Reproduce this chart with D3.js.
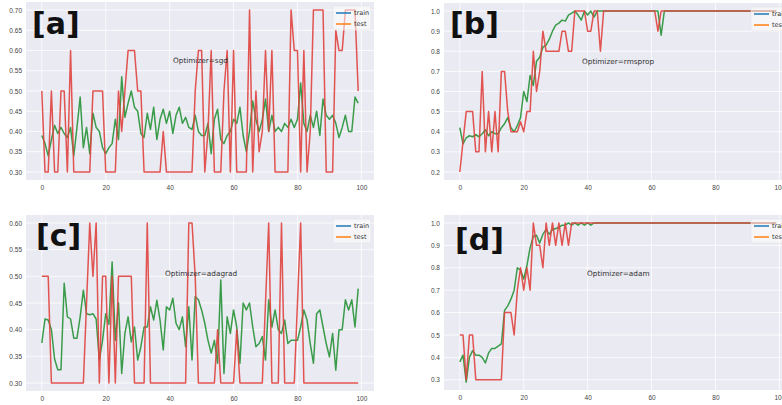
<!DOCTYPE html>
<html>
<head>
<meta charset="utf-8">
<script src="https://cdn.jsdelivr.net/npm/d3@7"></script>
<style>
  body { margin: 0; background: #fff; }
  svg { display: block; font-family: "DejaVu Sans", sans-serif; }
</style>
</head>
<body>
<div id="chart"></div>
<script>
const width = 782;
const height = 405;

// epochs 0..99
const epochs = d3.range(100);

// accuracy per epoch
const sgdTrain = [0.39,0.37,0.34,0.38,0.415,0.395,0.41,0.395,0.385,0.41,
  0.34,0.41,0.485,0.36,0.41,0.345,0.445,0.41,0.40,0.36,
  0.345,0.36,0.37,0.43,0.38,0.535,0.435,0.47,0.50,0.46,
  0.45,0.395,0.385,0.445,0.405,0.46,0.38,0.43,0.455,0.42,
  0.45,0.395,0.44,0.46,0.42,0.435,0.41,0.405,0.44,0.40,
  0.39,0.39,0.42,0.345,0.43,0.455,0.38,0.37,0.39,0.40,
  0.43,0.42,0.46,0.39,0.35,0.40,0.475,0.43,0.40,0.43,
  0.48,0.40,0.44,0.40,0.41,0.40,0.42,0.41,0.43,0.41,
  0.43,0.52,0.42,0.40,0.44,0.41,0.45,0.39,0.48,0.44,
  0.43,0.44,0.42,0.385,0.41,0.44,0.40,0.40,0.485,0.47];
const sgdTest = [0.5,0.3,0.3,0.5,0.3,0.3,0.5,0.5,0.3,0.6,
  0.3,0.3,0.3,0.3,0.3,0.3,0.5,0.5,0.5,0.5,
  0.3,0.3,0.3,0.3,0.5,0.4,0.5,0.6,0.6,0.6,
  0.5,0.5,0.3,0.3,0.3,0.3,0.3,0.3,0.4,0.3,
  0.3,0.3,0.3,0.3,0.3,0.3,0.3,0.3,0.5,0.6,
  0.6,0.3,0.4,0.6,0.3,0.3,0.3,0.5,0.6,0.3,
  0.6,0.3,0.3,0.3,0.3,0.7,0.3,0.5,0.35,0.4,
  0.6,0.4,0.6,0.3,0.3,0.3,0.3,0.3,0.7,0.6,
  0.6,0.3,0.6,0.3,0.4,0.7,0.7,0.7,0.7,0.3,
  0.3,0.3,0.65,0.6,0.6,0.7,0.7,0.7,0.7,0.5];

const rmspropTrain = [0.42,0.34,0.37,0.38,0.375,0.385,0.375,0.39,0.41,0.38,
  0.40,0.39,0.39,0.42,0.44,0.47,0.42,0.40,0.43,0.47,
  0.60,0.55,0.68,0.63,0.75,0.77,0.82,0.83,0.86,0.90,
  0.93,0.94,0.955,0.95,0.98,0.99,1.0,0.98,0.955,1.0,
  0.98,1.0,0.97,1.0,1.0,1.0,1.0,1.0,1.0,1.0,
  1.0,1.0,1.0,1.0,1.0,1.0,1.0,1.0,1.0,1.0,
  1.0,1.0,1.0,0.88,1.0,1.0,1.0,1.0,1.0,1.0,
  1.0,1.0,1.0,1.0,1.0,1.0,1.0,1.0,1.0,1.0,
  1.0,1.0,1.0,1.0,1.0,1.0,1.0,1.0,1.0,1.0,
  1.0,1.0,1.0,1.0,1.0,1.0,1.0,1.0,1.0,1.0];
const rmspropTest = [0.2,0.35,0.5,0.5,0.5,0.3,0.3,0.7,0.3,0.5,
  0.3,0.5,0.3,0.7,0.7,0.5,0.4,0.4,0.4,0.45,
  0.4,0.5,0.5,0.8,0.6,0.7,0.9,0.8,0.8,0.8,
  0.8,0.8,0.9,0.9,0.8,0.8,1.0,1.0,1.0,1.0,
  0.9,0.9,1.0,1.0,0.8,1.0,1.0,1.0,1.0,1.0,
  1.0,1.0,1.0,1.0,1.0,1.0,1.0,1.0,1.0,1.0,
  1.0,1.0,0.9,1.0,1.0,1.0,1.0,1.0,1.0,1.0,
  1.0,1.0,1.0,1.0,1.0,1.0,1.0,1.0,1.0,1.0,
  1.0,1.0,1.0,1.0,1.0,1.0,1.0,1.0,1.0,1.0,
  1.0,1.0,1.0,1.0,1.0,1.0,1.0,1.0,1.0,1.0];

const adagradTrain = [0.375,0.42,0.418,0.40,0.345,0.325,0.325,0.487,0.424,0.42,
  0.384,0.384,0.424,0.474,0.43,0.428,0.43,0.42,0.343,0.38,
  0.43,0.41,0.527,0.38,0.45,0.318,0.393,0.424,0.377,0.405,
  0.343,0.368,0.405,0.405,0.443,0.418,0.455,0.418,0.362,0.443,
  0.437,0.459,0.412,0.40,0.424,0.368,0.443,0.343,0.462,0.456,
  0.437,0.412,0.38,0.356,0.38,0.337,0.493,0.318,0.424,0.393,
  0.437,0.405,0.337,0.45,0.437,0.45,0.405,0.368,0.374,0.387,
  0.343,0.456,0.405,0.437,0.40,0.393,0.418,0.374,0.38,0.38,
  0.38,0.405,0.437,0.418,0.374,0.337,0.43,0.437,0.405,0.374,
  0.349,0.393,0.324,0.40,0.40,0.456,0.437,0.456,0.405,0.477];
const adagradTest = [0.5,0.5,0.5,0.3,0.3,0.3,0.3,0.3,0.3,0.3,
  0.3,0.3,0.3,0.3,0.45,0.6,0.5,0.6,0.3,0.5,
  0.5,0.3,0.5,0.3,0.5,0.5,0.5,0.5,0.5,0.3,
  0.3,0.3,0.3,0.6,0.3,0.3,0.3,0.3,0.3,0.3,
  0.3,0.3,0.3,0.3,0.3,0.3,0.6,0.6,0.5,0.3,
  0.3,0.3,0.3,0.3,0.3,0.4,0.3,0.3,0.3,0.3,
  0.3,0.4,0.3,0.3,0.3,0.3,0.3,0.3,0.3,0.3,
  0.45,0.6,0.3,0.3,0.3,0.6,0.3,0.3,0.3,0.3,
  0.45,0.6,0.3,0.3,0.3,0.3,0.3,0.3,0.3,0.3,
  0.3,0.3,0.3,0.3,0.3,0.3,0.3,0.3,0.3,0.3];

const adamTrain = [0.38,0.41,0.29,0.40,0.43,0.41,0.41,0.40,0.375,0.42,
  0.44,0.44,0.45,0.46,0.61,0.63,0.66,0.70,0.80,0.79,
  0.75,0.81,0.89,0.94,0.945,0.91,0.95,0.97,0.95,0.97,
  0.975,0.98,0.99,0.99,1.0,0.99,1.0,0.99,1.0,0.99,
  1.0,0.99,1.0,1.0,1.0,1.0,1.0,1.0,1.0,1.0,
  1.0,1.0,1.0,1.0,1.0,1.0,1.0,1.0,1.0,1.0,
  1.0,1.0,1.0,1.0,1.0,1.0,1.0,1.0,1.0,1.0,
  1.0,1.0,1.0,1.0,1.0,1.0,1.0,1.0,1.0,1.0,
  1.0,1.0,1.0,1.0,1.0,1.0,1.0,1.0,1.0,1.0,
  1.0,1.0,1.0,1.0,1.0,1.0,1.0,1.0,1.0,1.0];
const adamTest = [0.5,0.5,0.3,0.5,0.5,0.3,0.3,0.3,0.3,0.3,
  0.3,0.3,0.3,0.3,0.6,0.6,0.6,0.5,0.7,0.8,
  0.7,0.8,0.7,1.0,0.9,0.9,0.8,1.0,0.9,1.0,
  0.9,1.0,0.9,1.0,0.9,1.0,1.0,1.0,1.0,1.0,
  1.0,1.0,1.0,1.0,1.0,1.0,1.0,1.0,1.0,1.0,
  1.0,1.0,1.0,1.0,1.0,1.0,1.0,1.0,1.0,1.0,
  1.0,1.0,1.0,1.0,1.0,1.0,1.0,1.0,1.0,1.0,
  1.0,1.0,1.0,1.0,1.0,1.0,1.0,1.0,1.0,1.0,
  1.0,1.0,1.0,1.0,1.0,1.0,1.0,1.0,1.0,1.0,
  1.0,1.0,1.0,1.0,1.0,1.0,1.0,1.0,1.0,1.0];

const xTicks = [0, 20, 40, 60, 80, 100];
const yTicksFine = [0.30, 0.35, 0.40, 0.45, 0.50, 0.55, 0.60, 0.65, 0.70];
const yTicksCoarse = [0.2, 0.3, 0.4, 0.5, 0.6, 0.7, 0.8, 0.9, 1.0];
const legendNames = ["train", "test"];

// panel boxes in pixels (b and d run past the right edge, like the cropped figure)
const panels = [
  {label: "[a]", name: "Optimizer=sgd", train: sgdTrain, test: sgdTest,
   yTicks: yTicksFine, fmt: ".2f", box: [26, 374, 2, 180], lab: [6, 32], txt: [147, 58]},
  {label: "[b]", name: "Optimizer=rmsprop", train: rmspropTrain, test: rmspropTest,
   yTicks: yTicksCoarse, fmt: ".1f", box: [444, 792, 3, 180], lab: [6, 31], txt: [138, 58]},
  {label: "[c]", name: "Optimizer=adagrad", train: adagradTrain, test: adagradTest,
   yTicks: yTicksFine.slice(0, 7), fmt: ".2f", box: [26, 374, 215, 391], lab: [10, 31], txt: [139, 58]},
  {label: "[d]", name: "Optimizer=adam", train: adamTrain, test: adamTest,
   yTicks: yTicksCoarse.slice(1), fmt: ".1f", box: [444, 792, 215, 390], lab: [11, 35], txt: [143, 58]},
];

const svg = d3.select("#chart")
  .append("svg")
  .attr("width", width)
  .attr("height", height);

panels.forEach((p, k) => {
  const [x0, x1, y0, y1] = p.box;

  const xScale = d3.scaleLinear()
    .domain([-4.95, 103.95])
    .range([x0, x1]);

  const all = p.train.concat(p.test);
  const lo = d3.min(all), hi = d3.max(all);
  const pad = (hi - lo) * 0.05;
  const yScale = d3.scaleLinear()
    .domain([lo - pad, hi + pad])
    .range([y1, y0]);

  const g = svg.append("g");

  g.append("rect")
    .attr("x", x0).attr("y", y0)
    .attr("width", x1 - x0).attr("height", y1 - y0)
    .attr("fill", "#eaeaf2");

  // grid
  g.selectAll(".gx").data(xTicks).join("line")
    .attr("x1", d => xScale(d)).attr("x2", d => xScale(d))
    .attr("y1", y0).attr("y2", y1)
    .attr("stroke", "#fff").attr("stroke-width", 0.8);
  g.selectAll(".gy").data(p.yTicks).join("line")
    .attr("x1", x0).attr("x2", x1)
    .attr("y1", d => yScale(d)).attr("y2", d => yScale(d))
    .attr("stroke", "#fff").attr("stroke-width", 0.8);

  const xAxis = g.append("g")
    .attr("transform", `translate(0, ${y1})`)
    .call(d3.axisBottom(xScale).tickValues(xTicks).tickSize(0).tickPadding(5));
  const yAxis = g.append("g")
    .attr("transform", `translate(${x0}, 0)`)
    .call(d3.axisLeft(yScale).tickValues(p.yTicks).tickFormat(d3.format(p.fmt)).tickSize(0).tickPadding(4));
  [xAxis, yAxis].forEach(a => {
    a.select(".domain").remove();
    a.selectAll("text").attr("fill", "#444").style("font-size", "6.5px");
  });

  const clipId = "clip" + k;
  g.append("clipPath").attr("id", clipId)
    .append("rect").attr("x", x0).attr("y", y0)
    .attr("width", x1 - x0).attr("height", y1 - y0);

  const line = d3.line()
    .x((d, i) => xScale(epochs[i]))
    .y(d => yScale(d));

  g.append("path")
    .datum(p.train)
    .attr("clip-path", `url(#${clipId})`)
    .attr("fill", "none")
    .attr("stroke", "#3a9c4a")
    .attr("stroke-width", 1.5)
    .attr("stroke-linejoin", "round")
    .attr("d", line);
  g.append("path")
    .datum(p.test)
    .attr("clip-path", `url(#${clipId})`)
    .attr("fill", "none")
    .attr("stroke", "#e0433e")
    .attr("stroke-opacity", 0.9)
    .attr("stroke-width", 1.5)
    .attr("stroke-linejoin", "round")
    .attr("d", line);

  g.append("text")
    .attr("x", x0 + p.lab[0]).attr("y", y0 + p.lab[1])
    .attr("font-size", 30).attr("font-weight", "bold")
    .attr("fill", "#111")
    .text(p.label);

  g.append("text")
    .attr("x", x0 + p.txt[0]).attr("y", y0 + p.txt[1] + 2.5)
    .attr("font-size", 7.3).attr("fill", "#333")
    .text(p.name);

  // legend (colours as in the figure: blue / orange)
  const lx = x1 - 41, ly = y0 + 4;
  const leg = g.append("g");
  leg.append("rect")
    .attr("x", lx).attr("y", ly).attr("width", 38).attr("height", 24)
    .attr("rx", 2)
    .attr("fill", "#fff").attr("fill-opacity", 0.55)
    .attr("stroke", "#e2e2e8").attr("stroke-width", 0.6);
  leg.selectAll("line").data(legendNames).join("line")
    .attr("x1", lx + 3).attr("x2", lx + 18)
    .attr("y1", (d, i) => ly + 7 + i * 11).attr("y2", (d, i) => ly + 7 + i * 11)
    .attr("stroke", (d, i) => i === 0 ? "#1f77b4" : "#ff7f0e")
    .attr("stroke-width", 1.5);
  leg.selectAll("text").data(legendNames).join("text")
    .attr("x", lx + 21)
    .attr("y", (d, i) => ly + 9.3 + i * 11)
    .attr("font-size", 6.5).attr("fill", "#333")
    .text(d => d);
});
</script>
</body>
</html>
